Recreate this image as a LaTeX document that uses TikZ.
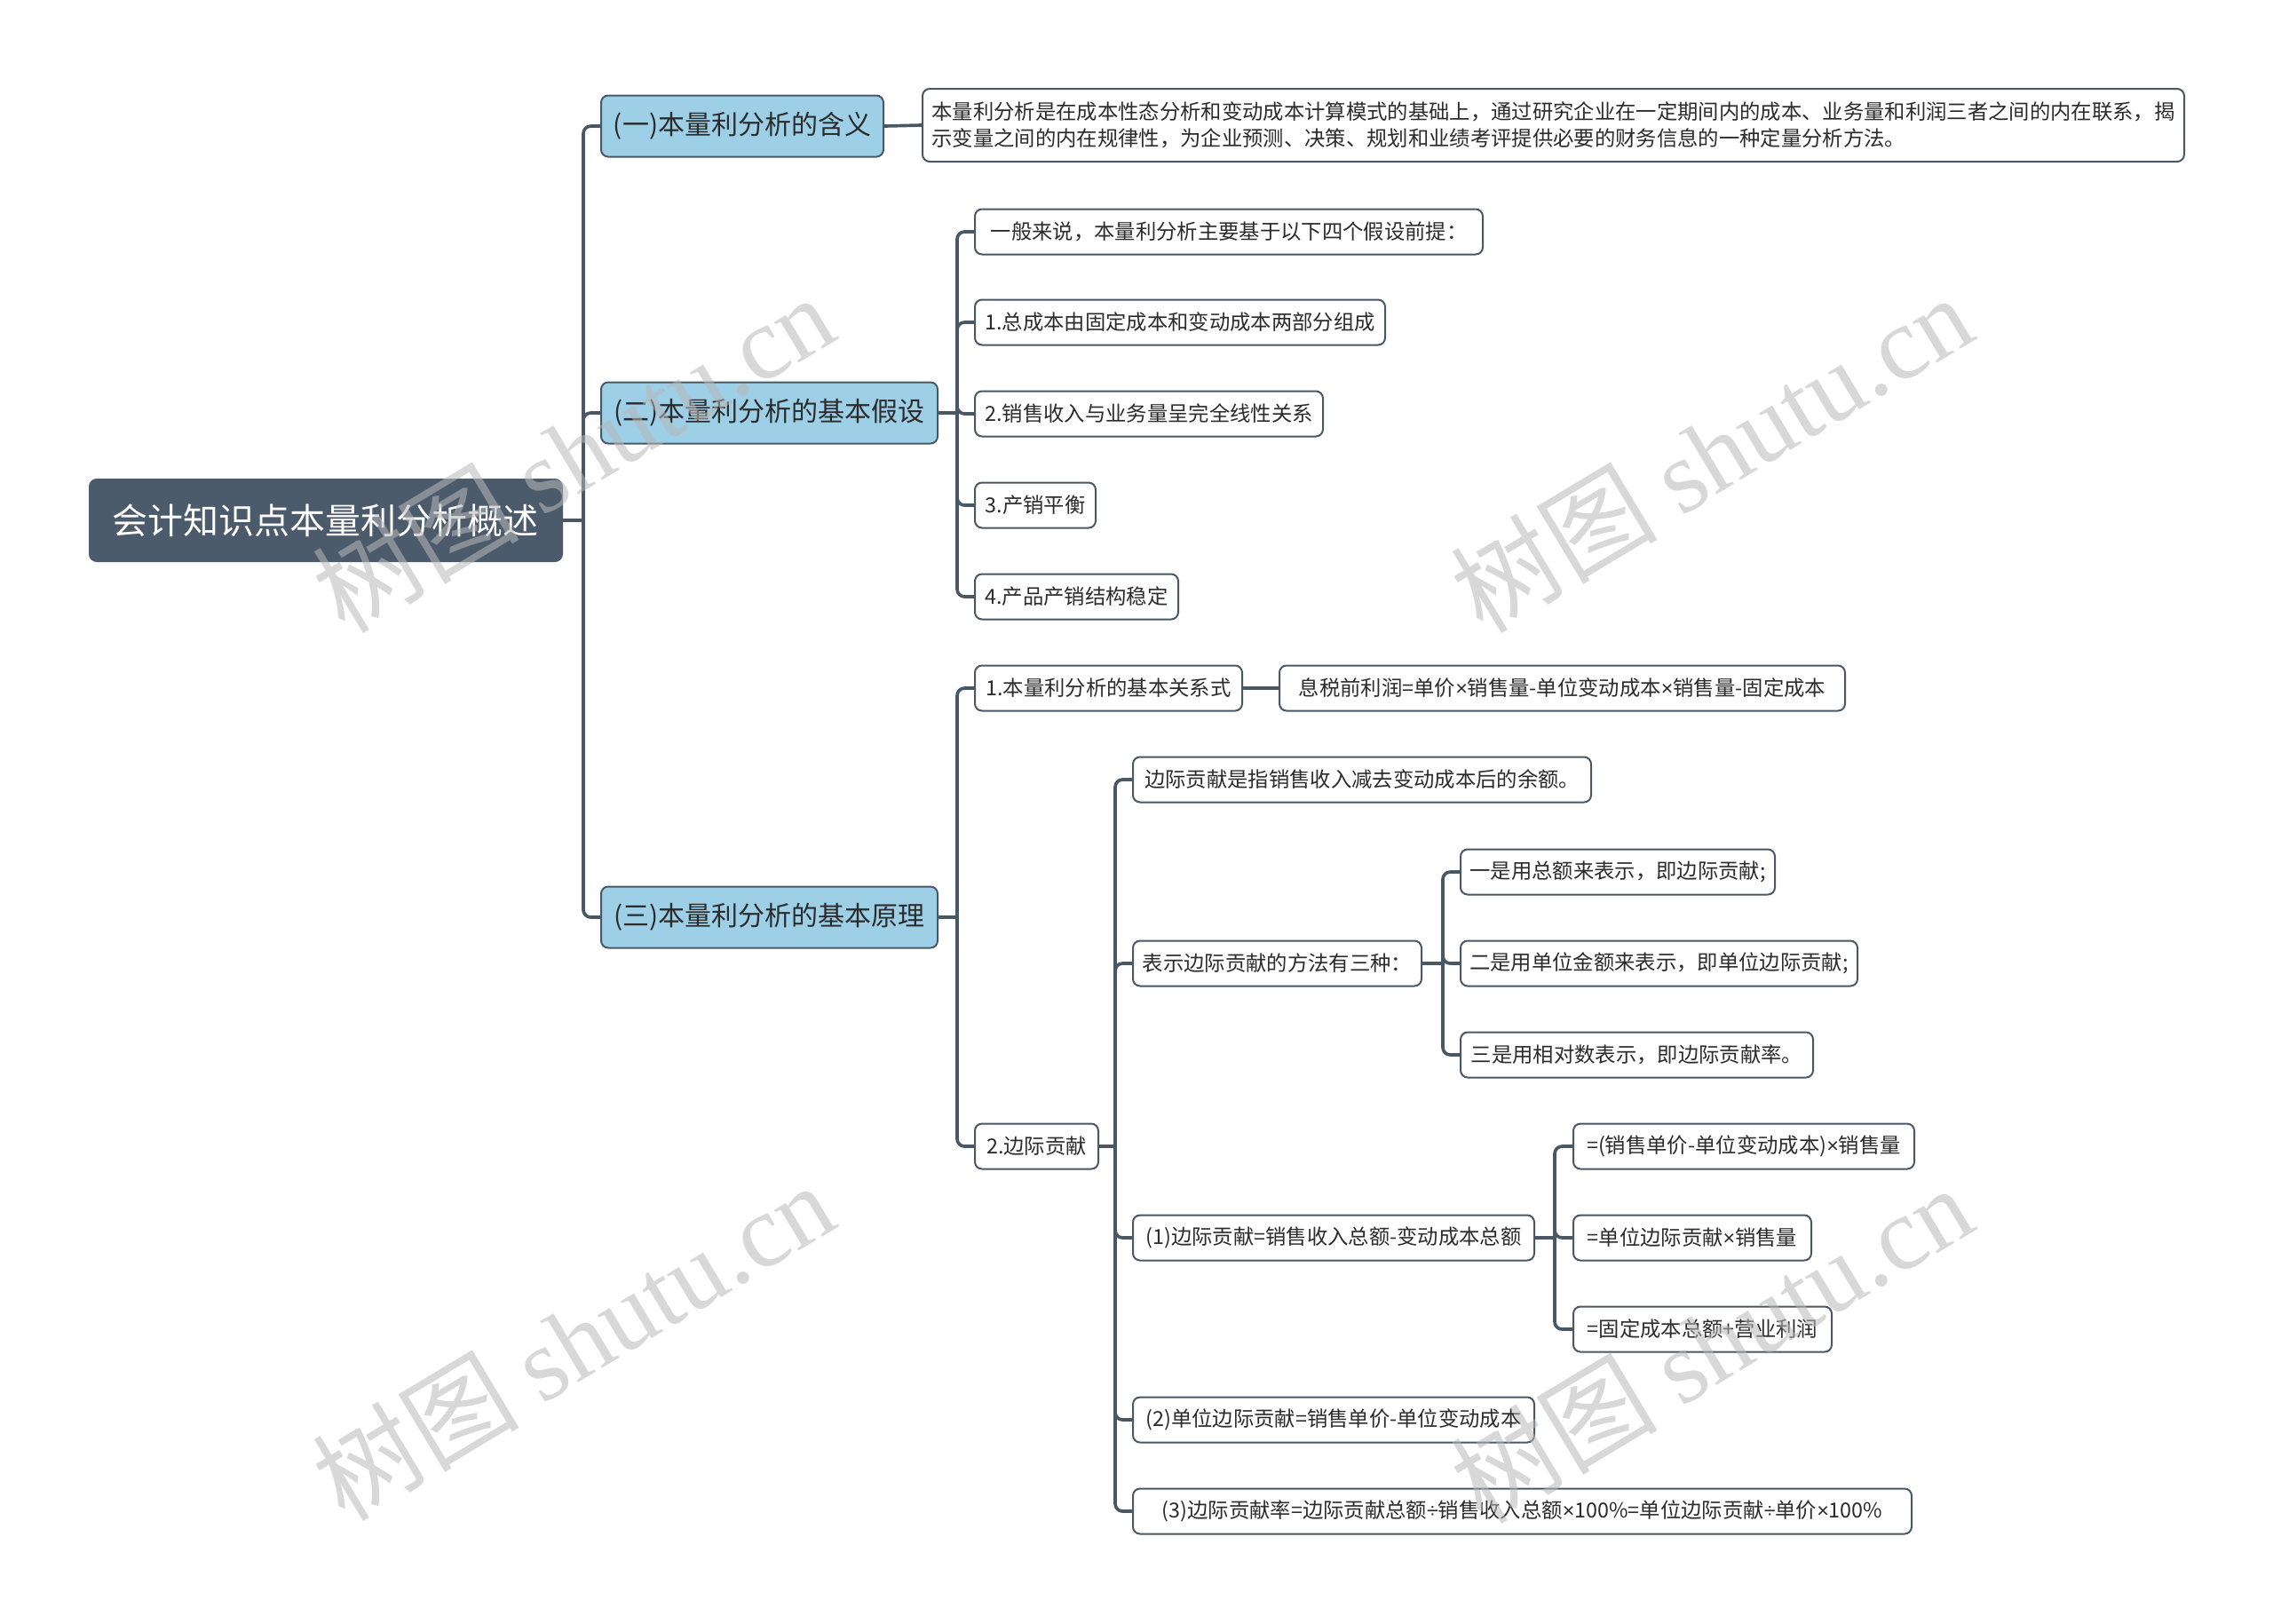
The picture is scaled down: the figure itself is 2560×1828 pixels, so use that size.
\documentclass[tikz,border=0pt]{standalone}
\usepackage{fontspec}
\setmainfont{Noto Sans CJK SC}
\newfontfamily\wmlatin{Liberation Serif}
\newfontfamily\symf{Liberation Sans}
\newcommand\tms{{\symf ×}}
\newcommand\dvs{{\symf ÷}}
\definecolor{rootc}{HTML}{4C5B6B}
\definecolor{bluef}{HTML}{9DCFE7}
\definecolor{linec}{HTML}{4A5866}
\definecolor{textc}{HTML}{2B2B2B}
\tikzset{
  box/.style={draw=linec, line width=0.6pt, rounded corners=2.4pt, fill=white, text=textc,
    font=\fontsize{7}{9}\selectfont, minimum height=15.3pt, inner xsep=0pt, inner ysep=0pt, anchor=west},
  lone/.style={box, fill=bluef, font=\fontsize{9}{11}\selectfont, minimum height=20.7pt},
  rootn/.style={box, fill=rootc, draw=rootc, text=white, font=\fontsize{12}{14}\selectfont, minimum height=27.6pt},
  conn/.style={draw=linec, line width=1.1pt},
  branch/.style={conn, rounded corners=2.5pt},
  wm/.style={rotate=31, text=black!28, opacity=0.55, font=\fontsize{35}{35}\selectfont}
}
\begin{document}
\begin{tikzpicture}[x=0.3pt,y=-0.3pt]
\useasboundingbox (0,0) rectangle (2560,1828);
% nodes
\node[rootn, minimum width=159.6pt] (root) at (100,586) {会计知识点本量利分析概述};
\node[lone, minimum width=95.4pt] (A1) at (676,142) {(一)本量利分析的含义};
\node[lone, minimum width=113.7pt] (A2) at (676,465) {(二)本量利分析的基本假设};
\node[lone, minimum width=113.7pt] (A3) at (676,1033) {(三)本量利分析的基本原理};
\node[box, minimum width=426.3pt, minimum height=24.6pt, align=left] (A1d) at (1038,141)
  {本量利分析是在成本性态分析和变动成本计算模式的基础上，通过研究企业在一定期间内的成本、业务量和利润三者之间的内在联系，揭\\示变量之间的内在规律性，为企业预测、决策、规划和业绩考评提供必要的财务信息的一种定量分析方法。};
\node[box, minimum width=171.6pt] (B0) at (1097,261) {一般来说，本量利分析主要基于以下四个假设前提：};
\node[box, minimum width=138.6pt] (B1) at (1097,363) {1.总成本由固定成本和变动成本两部分组成};
\node[box, minimum width=117.6pt] (B2) at (1097,466) {2.销售收入与业务量呈完全线性关系};
\node[box, minimum width=40.8pt] (B3) at (1097,569) {3.产销平衡};
\node[box, minimum width=68.7pt] (B4) at (1097,672) {4.产品产销结构稳定};
\node[box, minimum width=90.3pt] (C1) at (1097,775) {1.本量利分析的基本关系式};
\node[box, minimum width=191.1pt] (C1a) at (1440,775) {息税前利润=单价\tms 销售量-单位变动成本\tms 销售量-固定成本};
\node[box, minimum width=41.7pt] (C2) at (1097,1291) {2.边际贡献};
\node[box, minimum width=154.8pt] (D1) at (1275,878) {边际贡献是指销售收入减去变动成本后的余额。};
\node[box, minimum width=97.5pt] (D2) at (1275,1085) {表示边际贡献的方法有三种：};
\node[box, minimum width=135.6pt] (D3) at (1275,1394) {(1)边际贡献=销售收入总额-变动成本总额};
\node[box, minimum width=135.6pt] (D4) at (1275,1599) {(2)单位边际贡献=销售单价-单位变动成本};
\node[box, minimum width=263.1pt] (D5) at (1275,1702) {(3)边际贡献率=边际贡献总额\dvs 销售收入总额\tms 100\%=单位边际贡献\dvs 单价\tms 100\%};
\node[box, minimum width=106.2pt] (E1) at (1644,982) {一是用总额来表示，即边际贡献;};
\node[box, minimum width=134.1pt] (E2) at (1644,1085) {二是用单位金额来表示，即单位边际贡献;};
\node[box, minimum width=119.1pt] (E3) at (1644,1188) {三是用相对数表示，即边际贡献率。};
\node[box, minimum width=115.2pt] (F1) at (1771,1291) {=(销售单价-单位变动成本)\tms 销售量};
\node[box, minimum width=80.4pt] (F2) at (1771,1394) {=单位边际贡献\tms 销售量};
\node[box, minimum width=87.3pt] (F3) at (1771,1497) {=固定成本总额+营业利润};
% connectors
\draw[conn] (root.east) -- ++(23,0) coordinate (j0);
\foreach \c in {A1,A2,A3} \draw[branch] (j0) |- (\c.west);
\draw[conn] (A1.east) -- (A1d.west);
\draw[conn] (A2.east) -- ++(21,0) coordinate (j2);
\foreach \c in {B0,B1,B2,B3,B4} \draw[branch] (j2) |- (\c.west);
\draw[conn] (A3.east) -- ++(21,0) coordinate (j3);
\foreach \c in {C1,C2} \draw[branch] (j3) |- (\c.west);
\draw[conn] (C1.east) -- (C1a.west);
\draw[conn] (C2.east) -- ++(18,0) coordinate (jc);
\foreach \c in {D1,D2,D3,D4,D5} \draw[branch] (jc) |- (\c.west);
\draw[conn] (D2.east) -- ++(23,0) coordinate (jd);
\foreach \c in {E1,E2,E3} \draw[branch] (jd) |- (\c.west);
\draw[conn] (D3.east) -- ++(22,0) coordinate (jf);
\foreach \c in {F1,F2,F3} \draw[branch] (jf) |- (\c.west);
% watermarks
\node[wm] (w1) at (645,510) {树图 {\wmlatin shutu.cn}};
\node[wm] (w2) at (1927,510) {树图 {\wmlatin shutu.cn}};
\node[wm] (w3) at (645,1510) {树图 {\wmlatin shutu.cn}};
\node[wm] (w4) at (1927,1513) {树图 {\wmlatin shutu.cn}};
\end{tikzpicture}
\end{document}
